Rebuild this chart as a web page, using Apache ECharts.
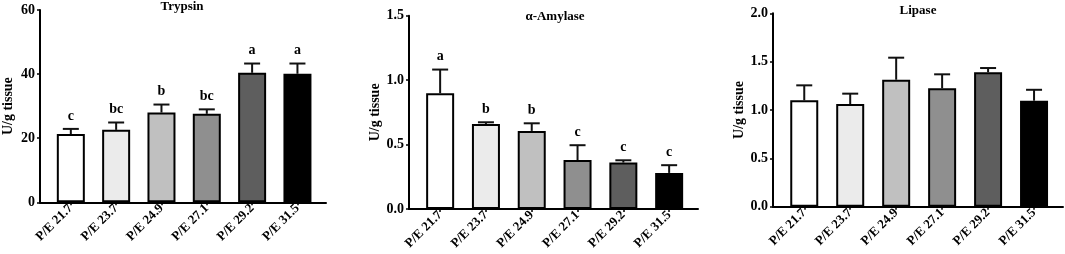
<!DOCTYPE html>
<html>
<head>
<meta charset="utf-8">
<script src="https://cdn.jsdelivr.net/npm/echarts@6/dist/echarts.min.js"></script>
<style>
html,body{margin:0;padding:0;background:#fff;}
#c{width:1065px;height:254px;}
</style>
</head>
<body>
<div id="c"></div>
<script>
const categories = ['P/E 21.7','P/E 23.7','P/E 24.9','P/E 27.1','P/E 29.2','P/E 31.5'];
const barColors = ['#ffffff','#ebebeb','#c0c0c0','#8f8f8f','#5e5e5e','#000000'];

const trypsinMean = [21.3, 22.6, 28.0, 27.6, 40.4, 40.1];
const trypsinSE   = [1.6, 2.3, 2.5, 1.4, 2.9, 3.2];
const trypsinLetters = ['c','bc','b','bc','a','a'];

const amylaseMean = [0.898, 0.660, 0.606, 0.380, 0.360, 0.280];
const amylaseSE   = [0.184, 0.013, 0.059, 0.115, 0.018, 0.060];
const amylaseLetters = ['a','b','b','c','c','c'];

const lipaseMean = [1.100, 1.062, 1.313, 1.224, 1.390, 1.096];
const lipaseSE   = [0.155, 0.107, 0.228, 0.145, 0.044, 0.113];
const lipaseLetters = ['','','','','',''];

const titles = ['Trypsin','\u03b1-Amylase','Lipase'];
const yNames = ['U/g tissue','U/g tissue','U/g tissue'];
const yRanges = [[0,60,20],[0,1.5,0.5],[0,2,0.5]];

const FONT = 'Liberation Serif';
const idx = [0,1,2,3,4,5];

const grids = [
  {left:37, top:10, width:289, height:192.3},
  {left:409, top:15.7, width:289, height:193.3},
  {left:773, top:13.3, width:290, height:193.4}
];
const titlePos = [{x:182,y:0},{x:555,y:10},{x:918,y:4}];

const panels = [
  {mean:trypsinMean, se:trypsinSE, letters:trypsinLetters, dec:0},
  {mean:amylaseMean, se:amylaseSE, letters:amylaseLetters, dec:1},
  {mean:lipaseMean, se:lipaseSE, letters:lipaseLetters, dec:1}
];

const option = {
  animation:false,
  backgroundColor:'#fff',
  title: titles.map((t,k)=>({
    text:t, left:titlePos[k].x, top:titlePos[k].y, textAlign:'center', padding:0,
    textStyle:{fontFamily:FONT, fontWeight:'bold', fontSize:13, color:'#000'}
  })),
  grid: grids.map(g=>Object.assign({containLabel:false}, g)),
  xAxis: panels.map((p,k)=>({
    type:'value', gridIndex:k, min:-0.68, max:5.63,
    axisLine:{show:true, onZero:false, lineStyle:{color:'#000', width:2}},
    axisTick:{show:true, length:3, customValues:idx, lineStyle:{color:'#000', width:1.5}},
    axisLabel:{customValues:idx, rotate:45, margin:4, formatter:v=>categories[Math.round(v)],
      fontFamily:FONT, fontWeight:'bold', fontSize:13, color:'#000'},
    splitLine:{show:false}
  })),
  yAxis: panels.map((p,k)=>({
    type:'value', gridIndex:k, min:yRanges[k][0], max:yRanges[k][1], interval:yRanges[k][2],
    name:yNames[k], nameLocation:'middle', nameGap:25,
    nameTextStyle:{fontFamily:FONT, fontWeight:'bold', fontSize:14, color:'#000'},
    axisLine:{show:true, onZero:false, lineStyle:{color:'#000', width:2}},
    axisTick:{show:true, length:3, lineStyle:{color:'#000', width:1.5}},
    axisLabel:{margin:5, formatter:v=>v.toFixed(p.dec), fontFamily:FONT, fontWeight:'bold', fontSize:14, color:'#000'},
    splitLine:{show:false}
  })),
  series: []
};

panels.forEach((p,k)=>{
  option.series.push({
    type:'bar', xAxisIndex:k, yAxisIndex:k, barWidth:28,
    data: p.mean.map((v,i)=>[i,v]),
    itemStyle:{color:params=>barColors[params.dataIndex], borderColor:'#000', borderWidth:2},
    z:2
  });
  option.series.push({
    type:'custom', xAxisIndex:k, yAxisIndex:k, z:3,
    data: p.mean.map((v,i)=>[i, v, v + p.se[i]]),
    renderItem:(params, api)=>{
      const i = api.value(0), v = api.value(1), e = api.value(2);
      const p0 = api.coord([i, v]);
      const p1 = api.coord([i, e]);
      const cw = 8;
      const children = [
        {type:'line', shape:{x1:p0[0], y1:p0[1], x2:p1[0], y2:p1[1]}, style:{stroke:'#111', lineWidth:2}},
        {type:'line', shape:{x1:p1[0]-cw, y1:p1[1], x2:p1[0]+cw, y2:p1[1]}, style:{stroke:'#111', lineWidth:2}}
      ];
      const lt = p.letters[params.dataIndex];
      if (lt) {
        children.push({type:'text', x:p1[0], y:p1[1]-6,
          style:{text:lt, fill:'#000', font:'bold 14px "Liberation Serif"', align:'center', verticalAlign:'bottom'}});
      }
      return {type:'group', children};
    }
  });
});

const chart = echarts.init(document.getElementById('c'), null, {renderer:'canvas'});
chart.setOption(option);
</script>
</body>
</html>
